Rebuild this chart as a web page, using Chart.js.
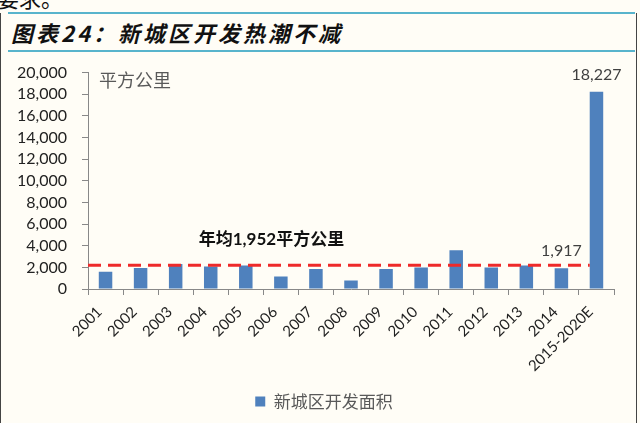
<!DOCTYPE html>
<html>
<head>
<meta charset="utf-8">
<script src="https://cdn.jsdelivr.net/npm/chart.js@4.4.1/dist/chart.umd.min.js"></script>
<style>
  body { margin: 0; width: 640px; height: 423px; background: #FFFDF6; overflow: hidden; position: relative; }
  #lead { position: absolute; left: -3px; top: -19px; font: 22px "Noto Sans CJK SC"; color: #111; white-space: nowrap; }
  .rule { position: absolute; left: 8px; width: 627px; height: 2px; background: #58B4CC; }
  #title { position: absolute; left: 11px; top: 16px; font: italic bold 22px "Noto Sans CJK SC"; letter-spacing: 3px; color: #111; white-space: nowrap; }
  .side { position: absolute; top: 13px; bottom: 0; width: 1px; background: #444; }
  #chart { position: absolute; left: 0; top: 48px; }
</style>
</head>
<body>
<div id="lead">要求。</div>
<div class="rule" style="top:12px"></div>
<div id="title">图表24：新城区开发热潮不减</div>
<div class="rule" style="top:50px"></div>
<div class="side" style="left:0"></div>
<div class="side" style="left:636px"></div>
<canvas id="chart" width="640" height="375"></canvas>
<script>
// Data
const categories = ['2001', '2002', '2003', '2004', '2005', '2006', '2007', '2008',
  '2009', '2010', '2011', '2012', '2013', '2014', '2015-2020E'];
const areaValues = [1600, 1950, 2300, 2080, 2170, 1160, 1840, 790,
  1840, 1980, 3580, 1980, 2170, 1917, 18227];
const barLabels = ['', '', '', '', '', '', '', '', '', '', '', '', '', '1,917', '18,227'];
const averageLine = [2200];
const averageText = ['年均1,952平方公里'];
const unitText = ['平方公里'];
const seriesName = ['新城区开发面积'];

// Dashed average line, labels and annotations
const overlayPlugin = {
  id: 'overlay',
  afterLayout(chart) {
    // legend sits a bit right of the canvas centre in the original
    chart.legend.left += 10;
    chart.legend.right += 10;
  },
  afterDatasetsDraw(chart) {
    const { ctx, chartArea, scales } = chart;
    const meta = chart.getDatasetMeta(0);
    const lastBar = meta.data[meta.data.length - 1];
    const yAvg = scales.y.getPixelForValue(averageLine[0]);

    ctx.save();
    ctx.strokeStyle = '#EE2A2A';
    ctx.lineWidth = 3;
    ctx.setLineDash([13, 7]);
    ctx.beginPath();
    ctx.moveTo(chartArea.left, yAvg);
    ctx.lineTo(lastBar.x - lastBar.width / 2, yAvg);
    ctx.stroke();
    ctx.setLineDash([]);

    // bar value labels
    ctx.font = '16px Lato';
    ctx.fillStyle = '#404040';
    ctx.textAlign = 'center';
    ctx.textBaseline = 'middle';
    meta.data.forEach((bar, i) => {
      if (barLabels[i]) ctx.fillText(barLabels[i], bar.x, bar.y - 17);
    });

    // average annotation
    ctx.font = 'bold 17px Lato, "Noto Sans CJK SC"';
    ctx.fillStyle = '#111';
    ctx.textAlign = 'left';
    ctx.fillText(averageText[0], scales.x.getPixelForValue(3) - 12, scales.y.getPixelForValue(4600));

    // unit
    ctx.font = '18px "Noto Sans CJK SC"';
    ctx.fillStyle = '#595959';
    ctx.fillText(unitText[0], chartArea.left + 11, chartArea.top + 8);
    ctx.restore();
  }
};

const ctx = document.getElementById('chart').getContext('2d');
new Chart(ctx, {
  type: 'bar',
  data: {
    labels: categories,
    datasets: [{
      label: seriesName[0],
      data: areaValues,
      backgroundColor: '#4F81BD',
      categoryPercentage: 1,
      barPercentage: 0.385,
    }],
  },
  options: {
    responsive: false,
    animation: false,
    layout: { padding: { left: 14, right: 26, top: 11, bottom: 3 } },
    plugins: {
      tooltip: { enabled: false },
      legend: {
        position: 'bottom',
        labels: {
          boxWidth: 10,
          boxHeight: 10,
          color: '#595959',
          font: { size: 17, family: '"Noto Sans CJK SC"' },
        },
      },
    },
    scales: {
      x: {
        afterFit(scale) { scale.height = 94; },
        grid: { drawOnChartArea: false, tickLength: 6, color: '#888' },
        border: { color: '#888' },
        ticks: {
          autoSkip: false,
          minRotation: 45,
          maxRotation: 45,
          padding: 8,
          labelOffset: -6,
          color: '#222',
          font: { size: 15, family: 'Lato' },
        },
      },
      y: {
        min: 0,
        max: 20000,
        afterFit(scale) { scale.width = 74; },
        grid: { drawOnChartArea: false, tickLength: 6, color: '#888' },
        border: { color: '#888' },
        ticks: {
          autoSkip: false,
          stepSize: 2000,
          padding: 15,
          color: '#222',
          font: { size: 16, family: 'Lato' },
          callback: (v) => v.toLocaleString('en-US'),
        },
      },
    },
  },
  plugins: [overlayPlugin],
});
</script>
</body>
</html>
